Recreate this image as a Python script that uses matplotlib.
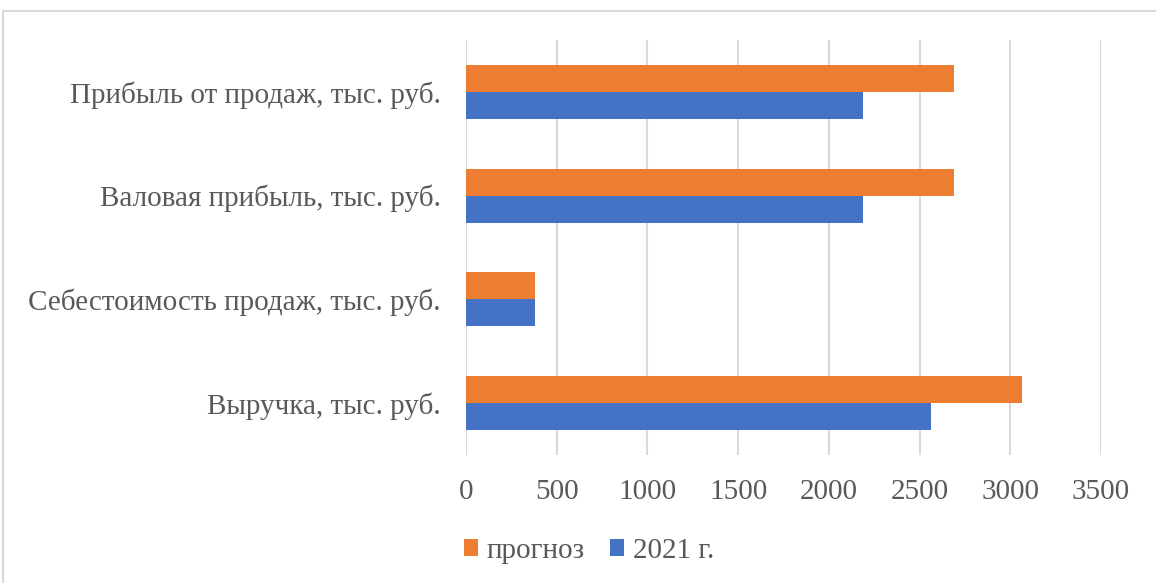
import numpy as np
import matplotlib.pyplot as plt
from matplotlib.patches import Rectangle

# Показатели (снизу вверх, как на оси)
categories = ["Выручка, тыс. руб.",
              "Себестоимость продаж, тыс. руб.",
              "Валовая прибыль, тыс. руб.",
              "Прибыль от продаж, тыс. руб."]
fact_2021 = [2565, 380, 2190, 2190]
forecast = [3065, 380, 2690, 2690]

plt.rcParams['font.family'] = ['Liberation Serif', 'DejaVu Serif']
text_color = '#595959'
grid_color = '#D9D9D9'

fig = plt.figure(figsize=(11.56, 5.83), dpi=100)
ax = fig.add_axes([0.4031, 0.2196, 0.5493, 0.7118])

y = np.arange(len(categories))
h = 0.26
ax.barh(y + h / 2, forecast, height=h, color='#ED7D31', label='прогноз', zorder=3)
ax.barh(y - h / 2, fact_2021, height=h, color='#4472C4', label='2021 г.', zorder=3)

ax.set_xlim(0, 3500)
ax.set_ylim(-0.5, len(categories) - 0.5)
ax.set_xticks(np.arange(0, 3501, 500))
ax.set_yticks(y)
ax.set_yticklabels(categories)
ax.tick_params(axis='x', length=0, pad=17, labelsize=21, labelcolor=text_color)
ax.tick_params(axis='y', length=0, pad=18, labelsize=21, labelcolor=text_color)
ax.xaxis.grid(True, color=grid_color, linewidth=1.5, zorder=0)
for s in ax.spines.values():
    s.set_visible(False)

ax.legend(loc='center', bbox_to_anchor=(0.5095, 0.055), bbox_transform=fig.transFigure,
          ncol=2, frameon=False, fontsize=21, labelcolor=text_color,
          handlelength=0.48, handleheight=0.48, handletextpad=0.3, columnspacing=0.85)

# рамка области диаграммы
fig.patches.append(Rectangle((3 / 1156, -0.1), 1.2, 1.1 - 11 / 583,
                             transform=fig.transFigure, fill=False,
                             edgecolor=grid_color, linewidth=1.5))

fig.savefig('out.png', dpi=100)
